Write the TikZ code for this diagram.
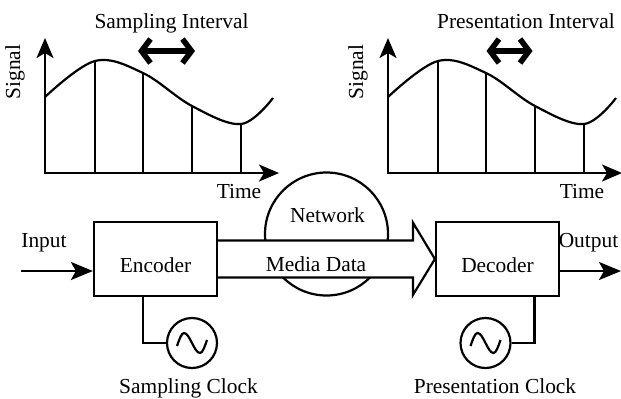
\documentclass[tikz,border=0pt]{standalone}
\usepackage{fontspec}
\setmainfont{Liberation Serif}
\usetikzlibrary{arrows.meta}
\usetikzlibrary{calc}

\begin{document}
\begin{tikzpicture}[x=0.5pt,y=-0.5pt,font=\fontsize{10.7}{12}\selectfont]
    \tikzset{line/.style={line width=1.1pt},
             head/.style={-{Stealth[length=11pt,width=9pt,inset=2.5pt]}},
             twohead/.style={{Stealth[length=10pt,width=8.5pt,inset=2.5pt]}-{Stealth[length=10pt,width=8.5pt,inset=2.5pt]}},
             interval/.style={line width=2.8pt,{Straight Barb[length=4.5pt,width=12pt]}-{Straight Barb[length=4.5pt,width=12pt]}},
             block/.style={draw,line,minimum width=61.5pt,minimum height=37pt,text height=13pt,text depth=0pt},
             osc/.style={draw,line,circle,minimum size=25pt,inner sep=0pt},
             txt/.style={anchor=base,inner sep=0pt}};
    \useasboundingbox (0,0) rectangle (621,398);

    % signal plots
    \foreach \gx/\title/\tx/\aw in {0/Sampling Interval/171.5/28.5, 343/Presentation Interval/183/23}{
        \begin{scope}[shift={(\gx,0)}]
            \coordinate (o) at (45,173);
            \draw[line,twohead] (45,38) -- (o) -- (279,173);
            \draw[line] plot[smooth,tension=0.6] coordinates {(45,97) (95,61) (143,73) (192,106) (241,124) (273,98)};
            \foreach \sx/\sy in {95/61,143/73,192/106,241/124}
                \draw[line] (\sx,\sy) -- (\sx,173);
            \draw[interval] (166.5-\aw,51) -- (166.5+\aw,51);
            \node[txt] (title) at (\tx,28) {\title};
            \node[txt,rotate=90] (sig) at (20,72) {Signal};
            \node[txt] (time) at (239,198) {Time};
        \end{scope}
    }

    % blocks
    \node[block] (enc) at (155.5,259) {Encoder};
    \node[block] (dec) at (497.5,259) {Decoder};
    \node[draw,line,circle,minimum size=61.5pt,inner sep=0pt] (net) at (326.5,234) {};

    \coordinate (in) at (21,271);
    \coordinate (out) at (621,271);
    \draw[line,head] (in) -- (in -| enc.west);
    \draw[line,head] (out -| dec.east) -- (out);
    \node[txt] (inlbl) at (44,247) {Input};
    \node[txt] (outlbl) at (588.5,247) {Output};

    % media data arrow
    \path (enc.east) ++(0,-18.5) coordinate (bt)
          (enc.east) ++(0,18.5) coordinate (bb)
          ([xshift=-11pt]dec.west) coordinate (hd);
    \draw[line,fill=white] (bt) -- (bt -| hd) -- ++(0,-18) -- (dec.west)
        -- ($(hd)+(0,36)$) -- ++(0,-17.5) -- (bb);
    \node[txt] (nettxt) at (327.5,222) {Network};
    \node[txt] (media) at (316,271) {Media Data};

    % clocks
    \node[osc] (clk1) at (192,343) {};
    \node[osc] (clk2) at (485.5,343) {};
    \draw[line] ([xshift=-6.25pt]enc.south) |- (clk1);
    \draw[line] ([xshift=18.5pt]dec.south) |- (clk2);
    \foreach \c in {clk1,clk2}
        \draw[line] ($(\c.center)+(-15,3)$) sin ++(7,-13) cos ++(8,10) sin ++(8,10) cos ++(7,-13);
    \node[txt] (clk1lbl) at (188.5,393) {Sampling Clock};
    \node[txt] (clk2lbl) at (495,393) {Presentation Clock};
\end{tikzpicture}
\end{document}
